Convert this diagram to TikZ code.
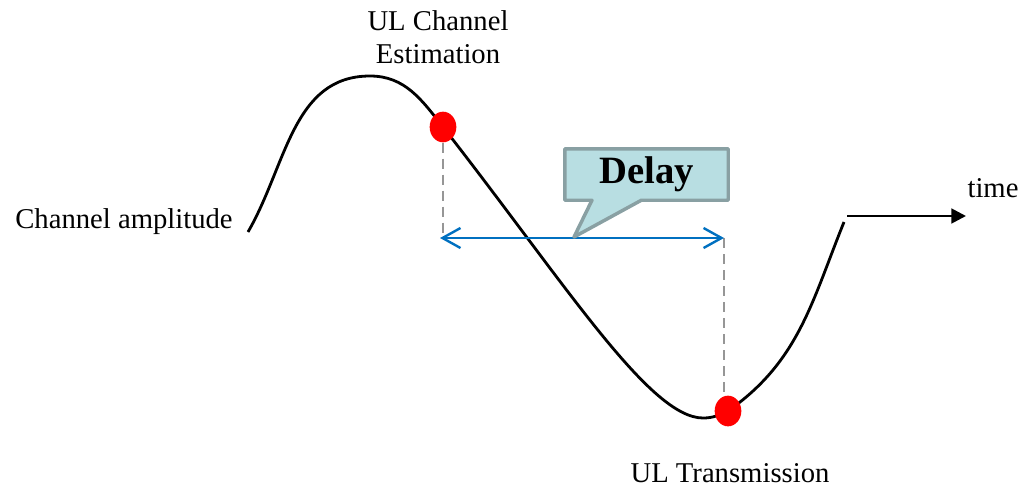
\documentclass[tikz,border=0pt]{standalone}
\usepackage{fontspec}
\setmainfont{Liberation Serif}
\usepackage{xcolor}
\definecolor{DotRed}{RGB}{255,0,0}
\definecolor{DelayBlue}{RGB}{0,112,192}
\definecolor{BoxFill}{RGB}{184,222,226}
\definecolor{BoxEdge}{RGB}{137,160,163}
\definecolor{GuideGray}{RGB}{150,150,150}
\usetikzlibrary{shapes.geometric,shapes.callouts,arrows.meta}
\tikzstyle{sampledot} = [ellipse, fill=DotRed, minimum width=20pt, minimum height=23pt, inner sep=0pt]
\tikzstyle{txt} = [inner sep=0pt, font=\fontsize{21.5}{24.75}\selectfont]
\tikzstyle{wave} = [draw, line width=2.1pt]
\tikzstyle{guide} = [draw, GuideGray, line width=2.2pt, dash pattern=on 7.5pt off 4.5pt]
\tikzstyle{delayline} = [draw, DelayBlue, line width=1.8pt,
    {Straight Barb[length=13.5pt,width=15pt]}-{Straight Barb[length=13.5pt,width=15pt]}]
\tikzstyle{callbox} = [rectangle callout, fill=BoxFill, draw=BoxEdge, line width=2.6pt,
    line join=round, minimum width=122.6pt, minimum height=38.6pt, callout pointer width=37pt,
    font=\bfseries\fontsize{29}{34}\selectfont]

\begin{document}
\begin{tikzpicture}[x=0.75pt, y=0.75pt]
  \useasboundingbox (0,0) rectangle (1021,487);
  % points of the channel curve
  \coordinate (start) at (248,255);
  \coordinate (peak) at (370,411);
  \coordinate (estpt) at (443,360);
  \coordinate (trough) at (703,69);
  \coordinate (txpt) at (728,76);
  \coordinate (waveend) at (844,265);
  \path [wave] (start) to[out=60, in=180] (peak) to[out=0, in=128] (estpt)
    to[out=-52, in=180, out looseness=1.3, in looseness=0.35] (trough)
    to[out=0, in=205] (txpt) to[out=35, in=-112] (waveend);
  %
  \coordinate (tstart) at (847,271);
  \coordinate (tend) at (966,271);
  \path [draw, line width=2.1pt, -{Triangle[length=11pt,width=11pt]}] (tstart) -- (tend);
  %
  \node [sampledot] (est) at (estpt) {};
  \node [sampledot] (tx) at (txpt) {};
  %
  \coordinate (dL) at (440,249);
  \coordinate (dR) at (724,249);
  \path [guide] (est) -- (est |- dL);
  \path [guide] (dR) -- (dR |- tx.north);
  \path [delayline] (dL) -- (dR);
  %
  \coordinate (ptr) at (574,250);
  \node [callbox, callout absolute pointer={(ptr)}] (delaybox) at (646.5,312.5) {Delay};
  %
  \node [txt, align=center] (estlabel) at (438,450) {UL Channel\\Estimation};
  \node [txt, anchor=base] (amplabel) at (124,259) {Channel amplitude};
  \node [txt, anchor=base] (txlabel) at (730,5) {UL Transmission};
  \node [txt, anchor=base] (timelabel) at (993,290) {time};
\end{tikzpicture}
\end{document}
